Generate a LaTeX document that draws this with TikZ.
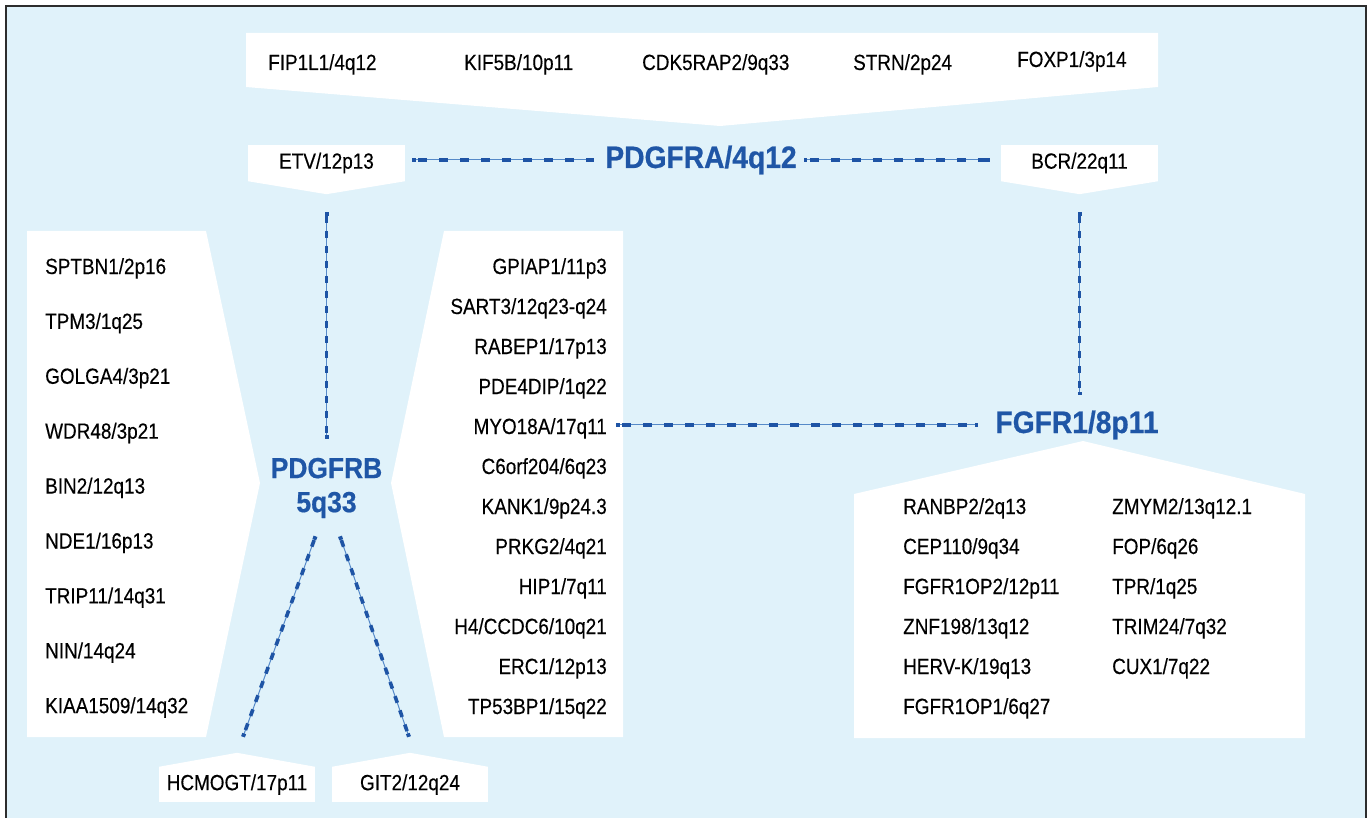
\documentclass[tikz,border=0pt]{standalone}
\usepackage{fontspec}
\setmainfont{Liberation Sans}[FakeStretch=0.86,FakeBold=0.25]
\newfontfamily\hfont{Liberation Sans}[FakeStretch=0.91,FakeBold=0.6]
\usetikzlibrary{arrows.meta}
\definecolor{bgblue}{RGB}{224,242,250}
\definecolor{txtblue}{RGB}{31,86,166}
\definecolor{dashblue}{RGB}{30,84,165}
\definecolor{thinblue}{RGB}{86,138,200}
\definecolor{framegray}{RGB}{45,45,45}
\tikzset{
  lbl/.style={inner sep=0pt, font=\fontsize{22}{26}\selectfont, text=black},
  head/.style={inner sep=0pt, font=\hfont\bfseries\fontsize{31}{34}\selectfont, text=txtblue},
  headb/.style={inner sep=0pt, align=center, font=\hfont\bfseries\fontsize{29}{34}\selectfont, text=txtblue},
  boxnode/.style={fill=white, inner sep=0pt, font=\fontsize{22}{26}\selectfont},
  hconn/.style={draw=thinblue, line width=1pt, {Square[length=3.5pt,width=4pt,color=dashblue]}-{Square[length=3.5pt,width=4pt,color=dashblue]},
    postaction={draw=dashblue, -, line width=3.6pt, dash pattern=on 9pt off 12pt, dash phase=15pt}},
  vconn/.style={draw=thinblue, line width=1pt, {Square[length=3.5pt,width=4pt,color=dashblue]}-{Square[length=3.5pt,width=4pt,color=dashblue]},
    postaction={draw=dashblue, -, line width=3.6pt, dash pattern=on 7pt off 8pt, dash phase=11pt}},
}
\begin{document}
\begin{tikzpicture}[x=1pt,y=-1pt]
\useasboundingbox (0,0) rectangle (1370,818);
\clip (0,0) rectangle (1370,818);
% frame
\fill[bgblue] (6,6) rectangle (1366,830);
\draw[framegray, line width=1.6pt] (6,830) -- (6,6) -- (1366,6) -- (1366,830);

% panels
\fill[white] (246,33) -- (1158,33) -- (1158,87) -- (720,126) -- (246,87) -- cycle;
\fill[white] (27,231) -- (206,231) -- (260,483) -- (206,737) -- (27,737) -- cycle;
\fill[white] (444,231) -- (623,231) -- (623,737) -- (444,737) -- (391,483) -- cycle;
\fill[white] (854,494) -- (1083,441) -- (1305,494) -- (1305,738) -- (854,738) -- cycle;

% top partners
\node[lbl, anchor=base west] (t1) at (268,70) {FIP1L1/4q12};
\node[lbl, anchor=base west] (t2) at (464,70) {KIF5B/10p11};
\node[lbl, anchor=base west] (t3) at (642,70) {CDK5RAP2/9q33};
\node[lbl, anchor=base west] (t4) at (853,70) {STRN/2p24};
\node[lbl, anchor=base west] (t5) at (1017,67) {FOXP1/3p14};

% ETV and BCR boxes
\node[boxnode, minimum width=157pt, minimum height=36pt] (etv) at (326.5,163) {ETV/12p13};
\fill[white] (etv.south west) -- ([yshift=-13pt]etv.south) -- (etv.south east) -- cycle;
\node[boxnode, minimum width=157pt, minimum height=36pt] (bcr) at (1079.5,163) {BCR/22q11};
\fill[white] (bcr.south west) -- ([yshift=-13pt]bcr.south) -- (bcr.south east) -- cycle;

% bottom boxes
\node[boxnode, minimum width=156pt, minimum height=35pt] (hcm) at (237,784.5) {HCMOGT/17p11};
\fill[white] (hcm.north west) -- ([yshift=14pt]hcm.north) -- (hcm.north east) -- cycle;
\node[boxnode, minimum width=156pt, minimum height=35pt] (git) at (410,784.5) {GIT2/12q24};
\fill[white] (git.north west) -- ([yshift=14pt]git.north) -- (git.north east) -- cycle;

% main genes
\node[head, anchor=base] (pdgfra) at (701,168) {PDGFRA/4q12};
\node[head, anchor=base] (fgfr1) at (1077,433) {FGFR1/8p11};
\node[headb] (pdgfrb) at (326.5,488) {PDGFRB\\5q33};

% left panel
\foreach \t [count=\i] in {SPTBN1/2p16, TPM3/1q25, GOLGA4/3p21, WDR48/3p21, BIN2/12q13, NDE1/16p13, TRIP11/14q31, NIN/14q24, KIAA1509/14q32}
  \node[lbl, anchor=base west] (l\i) at (45,{274+54.9*(\i-1)}) {\t};

% middle panel
\foreach \t [count=\i] in {GPIAP1/11p3, SART3/12q23-q24, RABEP1/17p13, PDE4DIP/1q22, MYO18A/17q11, C6orf204/6q23, KANK1/9p24.3, PRKG2/4q21, HIP1/7q11, H4/CCDC6/10q21, ERC1/12p13, TP53BP1/15q22}
  \node[lbl, anchor=base east] (m\i) at (607,{274+40*(\i-1)}) {\t};

% right panel
\foreach \t [count=\i] in {RANBP2/2q13, CEP110/9q34, FGFR1OP2/12p11, ZNF198/13q12, HERV-K/19q13, FGFR1OP1/6q27}
  \node[lbl, anchor=base west] (ra\i) at (903,{514+40*(\i-1)}) {\t};
\foreach \t [count=\i] in {ZMYM2/13q12.1, FOP/6q26, TPR/1q25, TRIM24/7q32, CUX1/7q22}
  \node[lbl, anchor=base west] (rb\i) at (1112,{514+40*(\i-1)}) {\t};

% connectors
\draw[hconn, shorten <=7pt, shorten >=11pt] (pdgfra.west -| etv.east) -- (pdgfra.west);
\draw[hconn, shorten <=7pt, shorten >=11pt] (pdgfra.east) -- (pdgfra.east -| bcr.west);
\draw[vconn, shorten <=31pt, shorten >=19pt] (etv.south) -- (etv.south |- pdgfrb.north);
\draw[vconn, shorten <=31pt, shorten >=15pt] (bcr.south) -- (bcr.south |- fgfr1.north);
\draw[hconn, shorten <=9pt, shorten >=17pt] (m5.east |- fgfr1.west) -- (fgfr1.west);
\draw[vconn] ([xshift=-11pt,yshift=-18pt]pdgfrb.south) -- ([xshift=6pt,yshift=30pt]hcm.north);
\draw[vconn] ([xshift=13.5pt,yshift=-18pt]pdgfrb.south) -- ([xshift=-1pt,yshift=30pt]git.north);
\end{tikzpicture}
\end{document}
